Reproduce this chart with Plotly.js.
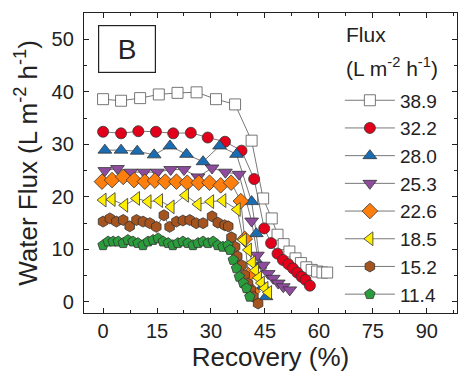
<!DOCTYPE html>
<html><head><meta charset="utf-8">
<script src="https://cdn.plot.ly/plotly-3.0.1.min.js"></script>
<style>body{margin:0;background:#fff}#c{width:458px;height:380px}</style>
</head><body><div id="c"></div>
<script>
// Flux series labels
const seriesNames = ["38.9","32.2","28.0","25.3","22.6","18.5","15.2","11.4"];
// Recovery (%) and water flux values per series
const x389 = [0,5,10.3,15.5,20.7,26,31.4,36.7,41.3,44.5,46.9,48.5,50.2,51.8,53.5,55,56.5,58,59.5,61,62.3];
const y389 = [38.6,38.3,38.8,39.5,39.8,39.9,38.6,37.6,30.7,19.7,15.9,12.8,11.0,9.6,8.3,7.4,6.6,6.1,5.8,5.6,5.6];
const x322 = [0,5,9.8,14.7,19.5,24.4,29.1,33.9,38.5,42,44.8,46.7,48.5,50,51.5,52.8,54,55.2,56.3,57.5];
const y322 = [32.4,32.1,32.5,32.4,32.1,32.2,31.3,30.5,28.8,23.4,14.0,11.2,9.2,8.0,7.2,6.4,5.6,4.8,4.2,3.1];
const x280 = [0.5,5,9.5,14.2,18.6,23.2,27.8,32.4,37.1,41.3,42.6,43.6,44.5,45.3];
const y280 = [28.9,28.9,28.7,28.0,29.7,28.1,26.7,29.7,28.1,19.1,13,7,3,1];
const x253 = [0.5,4,7.7,11.4,15.1,18.8,22.5,26.4,30.3,34,37.8,41.3,42.9,44.5,45.9,47.3,48.7,50.1,51.9];
const y253 = [25.0,25.4,24.7,24.7,24.7,25.2,25.2,23.8,25.5,24.7,24.3,15.4,8.9,7.0,5.4,4.5,3.6,2.9,2.3];
const x226 = [-0.3,2.5,5.6,8.6,11.6,14.4,17.3,20.4,23.4,26.6,29.6,32.7,35.6,38.3,39.4,40.4,41.5];
const y226 = [22.9,23.2,23.8,23.2,22.9,23.1,22.9,22.9,22.7,22.7,22.7,22.2,22.7,19.2,12,5.1,2];
const x185 = [0,2.5,6,9.3,12.5,15.7,18.9,22.9,26.4,29.9,33.3,37.3,39,40.4,41.5,42.4,43.2,44,45,46];
const y185 = [19.4,19.5,18.4,19.7,19.1,19.3,18.1,20.3,18.6,19.1,19.3,17.6,11.8,9.9,7.5,6.0,4.6,3.6,2.6,1.8];
const x152 = [0,1.9,3.7,5.6,7.4,9.3,11.1,13,14.8,16.9,18.5,20.4,22.2,24.1,25.9,27.8,30.3,31.9,33.8,34.8,35.7,36.7,37.3,38.5,39.4,40.3,41.1,41.8,43.1];
const y152 = [15.3,15.9,15.3,15.6,14.4,15.6,15.3,15.0,14.3,16.5,14.3,15.3,15.5,15.6,15.0,15.0,16.3,15.1,14.6,14.4,12.3,10.5,8.7,7.0,5.1,3.5,2.2,1.0,-0.3];
const x114 = [0,1.4,2.8,4.2,5.6,6.9,8.3,9.7,11.1,12.5,13.9,15.3,16.7,18.1,19.4,20.8,22.2,23.6,25,26.4,27.8,29.2,30.6,31.9,33.3,34.7,35.3,36.2,37.1,37.9,39,39.9,40.8];
const y114 = [10.8,11.5,11.5,11.5,11.2,11.8,11.5,11.2,10.8,11.5,11.8,12.1,11.5,11.2,10.8,11.2,11.5,11.2,10.8,11.2,11.5,11.2,11.5,10.8,10.5,10.8,9.9,8.0,6.4,4.8,3.6,2.6,1.0];
// Axis ticks
const xTicks = [0,15,30,45,60,75,90];
const yTicks = [0,10,20,30,40,50];

const xs = [x389,x322,x280,x253,x226,x185,x152,x114];
const ys = [y389,y322,y280,y253,y226,y185,y152,y114];
const symbols = ["square","circle","triangle-up","triangle-down","diamond","triangle-left","hexagon","pentagon"];
const colors = ["#ffffff","#e2001a","#1a6db3","#8f4c9f","#ff7f0e","#ffee00","#a5541f","#2a9c3c"];
const sizes = [11,11,12,12,12,12,11,11];

const traces = [];
for (let i = 0; i < 8; i++) {
  traces.push({
    x: xs[i], y: ys[i], name: seriesNames[i], type: "scatter", mode: "lines+markers",
    line: {color: "#555", width: 0.8},
    marker: {symbol: symbols[i], size: sizes[i], color: colors[i], line: {color: i===0 ? "#555" : "#333", width: 0.8}}
  });
}

const F = "Liberation Sans, Arial, sans-serif";
const layout = {
  width: 458, height: 380,
  margin: {l: 84, r: 1, t: 13, b: 67},
  paper_bgcolor: "#fff", plot_bgcolor: "#fff",
  font: {family: F, color: "#222", size: 20},
  showlegend: true,
  legend: {
    x: 0.686, y: 0.772, xanchor: "left", yanchor: "top",
    bgcolor: "rgba(0,0,0,0)", font: {family: F, size: 19, color: "#222"},
    tracegroupgap: 0, itemwidth: 50
  },
  xaxis: {
    range: [-5.3, 98.4], tickvals: xTicks, ticks: "inside", ticklen: 5, tickwidth: 1, tickcolor: "#222",
    minor: {dtick: 7.5, tick0: 0, ticks: "inside", ticklen: 3, tickcolor: "#222"},
    showline: true, linecolor: "#222", linewidth: 1.2, mirror: "ticks", showgrid: false, zeroline: false,
    tickfont: {size: 20}, ticklabelstandoff: 0,
    title: {text: "Recovery (%)", font: {size: 26}, standoff: 4}
  },
  yaxis: {
    range: [-2.1, 55], tickvals: yTicks, ticks: "inside", ticklen: 5, tickwidth: 1, tickcolor: "#222",
    minor: {dtick: 5, tick0: 0, ticks: "inside", ticklen: 3, tickcolor: "#222"},
    showline: true, linecolor: "#222", linewidth: 1.2, mirror: "ticks", showgrid: false, zeroline: false,
    tickfont: {size: 20}, ticklabelstandoff: 5,
    title: {text: "Water Flux (L m<sup>-2</sup> h<sup>-1</sup>)", font: {size: 26}, standoff: 6}
  },
  annotations: [{
    xref: "paper", yref: "paper", x: 0.114, y: 0.88, xanchor: "center", yanchor: "middle",
    text: "B", showarrow: false, font: {family: F, size: 28, color: "#222"},
    bordercolor: "#222", borderwidth: 1.2, width: 54, height: 44, bgcolor: "#fff"
  }, {
    xref: "paper", yref: "paper", x: 0.698, y: 0.927, xanchor: "left", yanchor: "middle",
    text: "Flux", showarrow: false, font: {family: F, size: 21, color: "#222"}
  }, {
    xref: "paper", yref: "paper", x: 0.698, y: 0.82, xanchor: "left", yanchor: "middle",
    text: "(L m<sup>-2</sup> h<sup>-1</sup>)", showarrow: false, font: {family: F, size: 21, color: "#222"}
  }]
};
Plotly.newPlot("c", traces, layout, {staticPlot: true, displayModeBar: false});
</script></body></html>
